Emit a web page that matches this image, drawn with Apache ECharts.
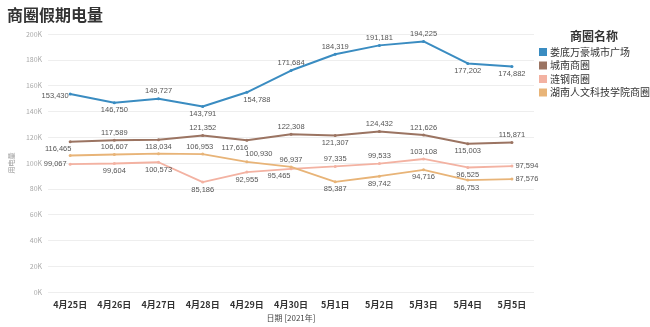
<!DOCTYPE html>
<html><head><meta charset="utf-8">
<script src="https://cdn.jsdelivr.net/npm/echarts@6/dist/echarts.min.js"></script>
<style>html,body{margin:0;padding:0;background:#fff}#c{width:650px;height:327px}</style>
</head><body><div id="c"></div>
<script>
const categories = ['4月25日','4月26日','4月27日','4月28日','4月29日','4月30日','5月1日','5月2日','5月3日','5月4日','5月5日'];
const seriesNames = ['娄底万豪城市广场','城南商圈','涟钢商圈','湖南人文科技学院商圈'];
const louDi = [153430,146750,149727,143791,154788,171684,184319,191181,194225,177202,174882];
const chengNan = [116465,117589,118034,121352,117616,122308,121307,124432,121626,115003,115871];
const lianGang = [99067,99604,100573,85186,92955,95465,97335,99533,103108,96525,97594];
const renWen = [105800,106607,107200,106953,100930,96937,85387,89742,94716,86753,87576];
const yTicks = [0,20000,40000,60000,80000,100000,120000,140000,160000,180000,200000];

const colors = ['#3a8cc1','#9b7462','#f3b2a2','#e8b478'];
// label placement (style only)
const pos = [
  ['left','bottom','top','bottom','bottom','top','top','top','top','bottom','bottom'],
  ['bottom','top','bottom','top','bottom','top','bottom','top','top','bottom','top'],
  ['left','bottom','bottom','bottom','bottom','bottom','top','top','top','bottom','right'],
  [null,'top',null,'top','top','top','bottom','bottom','bottom','bottom','right']
];
const offs = [
  [[2,2],null,null,null,[10,0],null,null,null,null,null,null],
  [[-12,0],null,null,null,[-12,0],null,null,null,null,null,null],
  [[0,0],null,null,null,null,[-12,0],null,null,null,null,null],
  [null,null,null,[-3,0],[12,0],null,null,null,null,null,null]
];
const datas = [louDi, chengNan, lianGang, renWen];
const fmt = v => v.toLocaleString('en-US');

const series = datas.map((d, si) => ({
  name: seriesNames[si],
  type: 'line',
  data: d.map((v, i) => {
    const p = pos[si][i];
    const item = {value: v};
    if (!p) { item.label = {show: false}; }
    else {
      item.label = {show: true, position: p, distance: 2};
      if (offs[si][i]) item.label.offset = offs[si][i];
    }
    return item;
  }),
  symbol: 'circle',
  symbolSize: 3,
  lineStyle: {width: si < 2 ? 2 : 1.8, color: colors[si]},
  itemStyle: {color: colors[si]},
  label: {show: true, formatter: p => fmt(p.value), fontSize: 7.5, color: '#555', fontFamily: '"Liberation Sans", Arial, sans-serif'},
  emphasis: {disabled: true},
  animation: false
}));

const chart = echarts.init(document.getElementById('c'), null, {renderer: 'canvas'});
chart.setOption({
  animation: false,
  color: colors,
  textStyle: {fontFamily: '"Noto Sans CJK SC", sans-serif'},
  title: {text: '商圈假期电量', left: 2, top: 2, textStyle: {fontSize: 16, fontWeight: 'bold', color: '#333', fontFamily: '"Noto Sans CJK SC"'}},
  graphic: [{type: 'text', left: 570, top: 30, style: {text: '商圈名称', font: 'bold 12px "Noto Sans CJK SC"', fill: '#333'}}],
  legend: {
    orient: 'vertical', left: 534, top: 41, itemWidth: 8, itemHeight: 8, itemGap: 1.5,
    icon: 'rect', data: seriesNames,
    textStyle: {fontSize: 10, lineHeight: 12, color: '#333', fontFamily: '"Noto Sans CJK SC"', padding: [0,0,0,-2]}
  },
  grid: {left: 34, right: 116, top: 34, bottom: 35, containLabel: false},
  xAxis: {
    type: 'category', data: categories, boundaryGap: true,
    name: '日期 [2021年]', nameLocation: 'middle', nameGap: 22,
    nameTextStyle: {fontSize: 8, color: '#444'},
    axisLine: {show: false}, axisTick: {show: false},
    axisLabel: {fontSize: 9, fontWeight: 'bold', color: '#333', margin: 8, interval: 0}
  },
  yAxis: {
    type: 'value', min: yTicks[0], max: yTicks[yTicks.length-1], interval: yTicks[1]-yTicks[0],
    name: '用电量', nameLocation: 'middle', nameGap: 27, nameRotate: 90,
    nameTextStyle: {fontSize: 7, color: '#999'},
    axisLine: {show: false}, axisTick: {show: false},
    axisLabel: {fontSize: 7, color: '#aaa', margin: 6, formatter: v => (v/1000) + 'K'},
    splitLine: {lineStyle: {color: '#eeeeee', width: 1}}
  },
  series: series
});
</script></body></html>
